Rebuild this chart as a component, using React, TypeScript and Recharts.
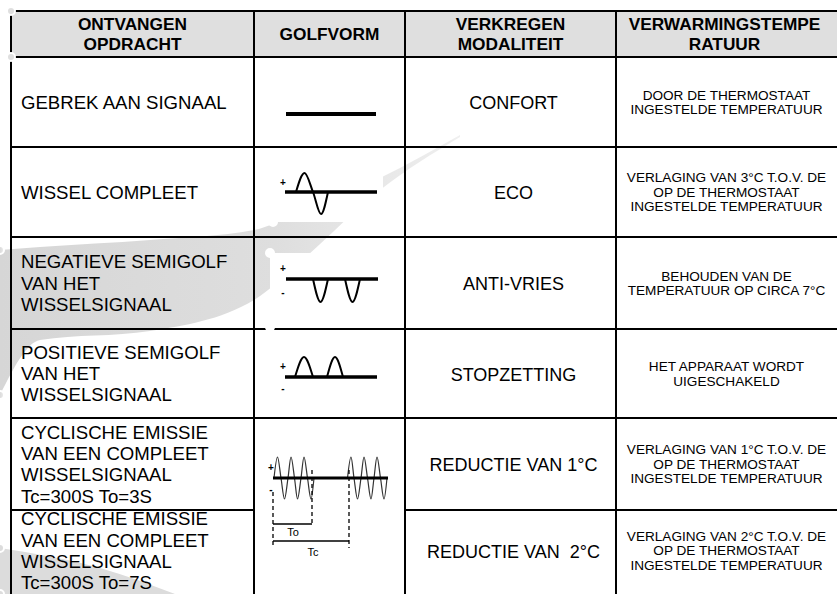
import { ComposedChart, XAxis, YAxis, Line, Area, Scatter } from "recharts";

const W = 837;
const H = 594;
const FONT = "'Liberation Sans', Arial, sans-serif";

// table layout (chart units = pixels)
const colEdges = [11, 254, 405, 616, 837];
const rowEdges = [11, 57, 147, 237, 329, 418, 510, 591];

const headers = [
  ["ONTVANGEN", "OPDRACHT"],
  ["GOLFVORM"],
  ["VERKREGEN", "MODALITEIT"],
  ["VERWARMINGSTEMPE", "RATUUR"],
];

const commands = [
  ["GEBREK AAN SIGNAAL"],
  ["WISSEL COMPLEET"],
  ["NEGATIEVE SEMIGOLF", "VAN HET", "WISSELSIGNAAL"],
  ["POSITIEVE SEMIGOLF", "VAN HET", "WISSELSIGNAAL"],
  ["CYCLISCHE EMISSIE", "VAN EEN COMPLEET", "WISSELSIGNAAL", "Tc=300S To=3S"],
  ["CYCLISCHE EMISSIE", "VAN EEN COMPLEET", "WISSELSIGNAAL", "Tc=300S To=7S"],
];

const modes = ["CONFORT", "ECO", "ANTI-VRIES", "STOPZETTING", "REDUCTIE VAN 1°C", "REDUCTIE VAN  2°C"];

const temps = [
  ["DOOR DE THERMOSTAAT", "INGESTELDE TEMPERATUUR"],
  ["VERLAGING VAN 3°C T.O.V. DE", "OP DE THERMOSTAAT", "INGESTELDE TEMPERATUUR"],
  ["BEHOUDEN VAN DE", "TEMPERATUUR OP CIRCA 7°C"],
  ["HET APPARAAT WORDT", "UIGESCHAKELD"],
  ["VERLAGING VAN 1°C T.O.V. DE", "OP DE THERMOSTAAT", "INGESTELDE TEMPERATUUR"],
  ["VERLAGING VAN 2°C T.O.V. DE", "OP DE THERMOSTAAT", "INGESTELDE TEMPERATUUR"],
];

// waveform traces
const flatWave = [{ x: 286, y: 114 }, { x: 376, y: 114 }];
const fullBase = [{ x: 285, y: 192 }, { x: 377, y: 192 }];
const fullSine = [
  { x: 296, y: 192 }, { x: 304.5, y: 173 }, { x: 313, y: 192 }, { x: 321, y: 214 }, { x: 328, y: 192 },
];
const negBase = [{ x: 286, y: 279 }, { x: 378, y: 279 }];
const negHalf1 = [{ x: 313, y: 279 }, { x: 320.5, y: 302 }, { x: 328, y: 279 }];
const negHalf2 = [{ x: 345, y: 279 }, { x: 352.5, y: 302 }, { x: 360, y: 279 }];
const posBase = [{ x: 285, y: 377 }, { x: 377, y: 377 }];
const posHalf1 = [{ x: 295, y: 377 }, { x: 304, y: 357 }, { x: 313, y: 377 }];
const posHalf2 = [{ x: 327, y: 377 }, { x: 335, y: 357 }, { x: 343, y: 377 }];
const cycBase = [{ x: 273, y: 478 }, { x: 388, y: 478 }];
const burst1 = [
  { x: 274, y: 478 }, { x: 277.5, y: 457 }, { x: 281, y: 478 }, { x: 284.5, y: 499 },
  { x: 288, y: 478 }, { x: 291, y: 457 }, { x: 294.5, y: 478 }, { x: 297.5, y: 499 },
  { x: 301, y: 478 }, { x: 304, y: 457 }, { x: 307.5, y: 478 }, { x: 311, y: 499 }, { x: 314, y: 478 },
];
const burst2 = [
  { x: 347.5, y: 478 }, { x: 351, y: 457 }, { x: 354, y: 478 }, { x: 357.5, y: 499 },
  { x: 361, y: 478 }, { x: 364, y: 457 }, { x: 367.5, y: 478 }, { x: 371, y: 499 },
  { x: 374, y: 478 }, { x: 377, y: 457 }, { x: 380.5, y: 478 }, { x: 384, y: 499 }, { x: 387, y: 478 },
];
const dashMarks = [
  [{ x: 273, y: 492 }, { x: 273, y: 548 }],
  [{ x: 312, y: 470 }, { x: 312, y: 525 }],
  [{ x: 349, y: 470 }, { x: 349, y: 548 }],
];
const toSpan = [{ x: 273, y: 524 }, { x: 312, y: 524 }];
const tcSpan = [{ x: 273, y: 541 }, { x: 349, y: 541 }];

const signs = [
  { x: 283, y: 182, t: "+" },
  { x: 283, y: 268, t: "+" }, { x: 283, y: 292, t: "-" },
  { x: 283, y: 366, t: "+" }, { x: 283, y: 388, t: "-" },
  { x: 271, y: 467, t: "+" }, { x: 271, y: 489, t: "-" },
];
const spanLabels = [{ x: 293, y: 532, t: "To" }, { x: 313, y: 552, t: "Tc" }];

// background watermark swoosh + white image boxes
const swooshX = [0, 40, 150, 254, 300, 380, 460];
const swooshTop = [250, 247, 240, 230, 212, 178, 135];
const swooshBottom = [395, 340, 331, 300, 262, 190, 137];
const cornerX = [0, 100, 175];
const cornerTop = [548, 568, 594];
const waveBoxes = [
  { x1: 273, x2: 383, y1: 167, y2: 222 },
  { x1: 270, x2: 380, y1: 253, y2: 327 },
];

const mid = (a: number, b: number) => (a + b) / 2;

const swooshData = swooshX.map((x, i) => ({ x, r: [swooshTop[i], swooshBottom[i]] }));
const cornerData = cornerX.map((x, i) => ({ x, r: [cornerTop[i], 594] }));
const headerFill = [
  { x: colEdges[0], r: [rowEdges[0], rowEdges[1]] },
  { x: colEdges[4], r: [rowEdges[0], rowEdges[1]] },
];

// grid segments; the waveform cell spans the last two rows
const gridSegs: { x: number; y: number }[][] = [];
rowEdges.slice(0, 7).forEach((y, i) => {
  for (let j = 0; j < 4; j++) {
    if (i === 6 && j === 1) continue;
    gridSegs.push([{ x: colEdges[j], y }, { x: colEdges[j + 1], y }]);
  }
});
colEdges.slice(0, 4).forEach((x) => {
  gridSegs.push([{ x, y: rowEdges[0] }, { x, y: 600 }]);
});

type Cell = { x: number; y: number; lines: string[]; size: number; weight: string; anchor: string; gap: number };

const cells: Cell[] = [];
headers.forEach((lines, j) =>
  cells.push({ x: mid(colEdges[j], colEdges[j + 1]) - (j === 3 ? 2 : 0), y: mid(rowEdges[0], rowEdges[1]), lines, size: 17.3, weight: "bold", anchor: "middle", gap: 20 })
);
commands.forEach((lines, i) =>
  cells.push({ x: colEdges[0] + 10, y: mid(rowEdges[i + 1], rowEdges[i + 2]), lines, size: 18.6, weight: "normal", anchor: "start", gap: 21.3 })
);
modes.forEach((m, i) =>
  cells.push({ x: mid(colEdges[2], colEdges[3]) + 3, y: mid(rowEdges[i + 1], rowEdges[i + 2]) + 1, lines: [m], size: 18, weight: "normal", anchor: "middle", gap: 20 })
);
temps.forEach((lines, i) =>
  cells.push({ x: mid(colEdges[3], colEdges[4]), y: mid(rowEdges[i + 1], rowEdges[i + 2]), lines, size: 13.6, weight: "normal", anchor: "middle", gap: 14.4 })
);

const marks = [
  ...signs.map((s) => ({ x: s.x, y: s.y, lines: [s.t], size: 10, weight: "bold", anchor: "middle", gap: 0 })),
  ...spanLabels.map((s) => ({ x: s.x, y: s.y, lines: [s.t], size: 11, weight: "normal", anchor: "middle", gap: 0 })),
];

function CellText(props: any) {
  const { cx, cy, payload } = props;
  const n = payload.lines.length;
  return (
    <text
      textAnchor={payload.anchor}
      fontSize={payload.size}
      fontWeight={payload.weight}
      fontFamily={FONT}
      fill="#000"
      style={{ whiteSpace: "pre" }}
    >
      {payload.lines.map((l: string, i: number) => (
        <tspan key={i} x={cx} y={cy + (i - (n - 1) / 2) * payload.gap + payload.size * 0.36}>
          {l}
        </tspan>
      ))}
    </text>
  );
}

const trace = (key: string, data: { x: number; y: number }[], width: number, curve = false, extra: any = {}) => (
  <Line
    key={key}
    data={data}
    dataKey="y"
    type={curve ? "monotone" : "linear"}
    stroke="#000"
    strokeWidth={width}
    dot={false}
    activeDot={false}
    isAnimationActive={false}
    {...extra}
  />
);

export default function App() {
  return (
    <div style={{ position: "absolute", left: 0, top: 0, width: W, height: H, background: "#fff" }}>
      <ComposedChart width={W} height={H} margin={{ top: 0, right: 0, bottom: 0, left: 0 }}>
        <defs>
          <linearGradient id="wm" x1="0" y1="0" x2="1" y2="0">
            <stop offset="0%" stopColor="#d6d6d6" />
            <stop offset="60%" stopColor="#dedede" />
            <stop offset="100%" stopColor="#efefef" />
          </linearGradient>
        </defs>
        <XAxis type="number" dataKey="x" domain={[0, W]} allowDataOverflow hide />
        <YAxis type="number" dataKey="y" domain={[0, H]} reversed allowDataOverflow hide />

        <Area data={swooshData} dataKey="r" type="monotone" stroke="none" fill="url(#wm)" fillOpacity={1} isAnimationActive={false} />
        <Area data={cornerData} dataKey="r" type="monotone" stroke="none" fill="#dcdcdc" fillOpacity={1} isAnimationActive={false} />
        {waveBoxes.map((b, i) => (
          <Area
            key={"box" + i}
            data={[{ x: b.x1, r: [b.y1, b.y2] }, { x: b.x2, r: [b.y1, b.y2] }]}
            dataKey="r"
            type="linear"
            stroke="none"
            fill="#fff"
            fillOpacity={1}
            isAnimationActive={false}
          />
        ))}
        <Area data={headerFill} dataKey="r" type="linear" stroke="none" fill="#dfdfdf" fillOpacity={1} isAnimationActive={false} />

        {gridSegs.map((s, i) => trace("g" + i, s, 2, false, { strokeLinecap: "square" }))}

        {trace("flat", flatWave, 4)}
        {trace("fb", fullBase, 3.5)}
        {trace("fs", fullSine, 2, true)}
        {trace("nb", negBase, 3.5)}
        {trace("n1", negHalf1, 2, true)}
        {trace("n2", negHalf2, 2, true)}
        {trace("pb", posBase, 3.5)}
        {trace("p1", posHalf1, 2, true)}
        {trace("p2", posHalf2, 2, true)}
        {trace("b1", burst1, 1.2, true, { stroke: "#333" })}
        {trace("b2", burst2, 1.2, true, { stroke: "#333" })}
        {trace("cb", cycBase, 3)}
        {dashMarks.map((d, i) => trace("d" + i, d, 1.3, false, { strokeDasharray: "4 3" }))}
        {trace("to", toSpan, 1.3)}
        {trace("tc", tcSpan, 1.3)}

        <Scatter data={cells} shape={CellText} isAnimationActive={false} />
        <Scatter data={marks} shape={CellText} isAnimationActive={false} />
      </ComposedChart>
    </div>
  );
}
